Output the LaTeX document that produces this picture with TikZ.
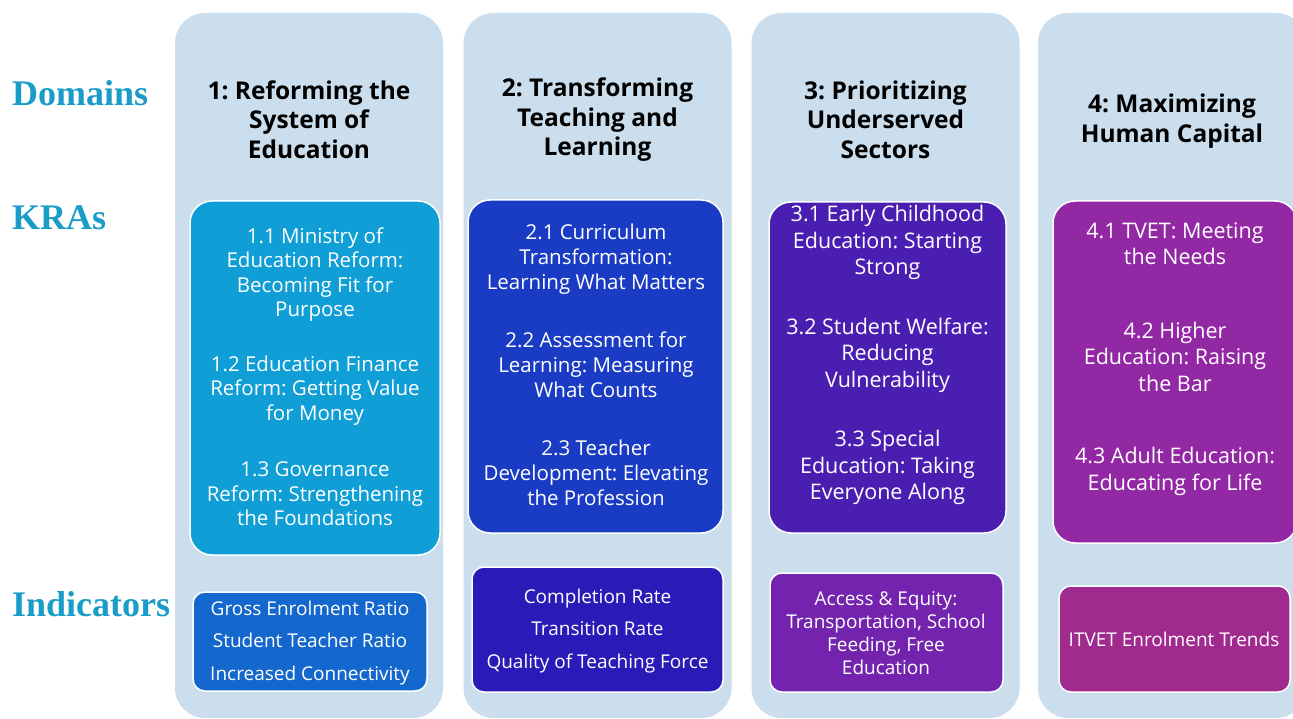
\documentclass[tikz,border=0pt]{standalone}
\usepackage{fontspec}
\setmainfont{Open Sans}
\newfontfamily\rowfont{Liberation Serif}
\frenchspacing

\definecolor{colbg}{HTML}{CBDEED}
\definecolor{rowlabel}{HTML}{1A9CC8}
\definecolor{kraA}{HTML}{0F9ED5}
\definecolor{kraB}{HTML}{1A3CC4}
\definecolor{kraC}{HTML}{4A1EB0}
\definecolor{kraD}{HTML}{9328A4}
\definecolor{indA}{HTML}{1467CC}
\definecolor{indB}{HTML}{2A1BB8}
\definecolor{indC}{HTML}{7423AE}
\definecolor{indD}{HTML}{A02A8E}

\tikzset{
  column/.style={fill=colbg, draw=none, rounded corners=30pt,
    inner sep=0pt, outer sep=0pt, minimum width=268pt, minimum height=705pt},
  krabox/.style={draw=white, line width=1.5pt, rounded corners=22pt,
    inner sep=0pt, outer sep=0pt},
  indbox/.style={draw=white, line width=1.5pt, rounded corners=12pt,
    inner sep=0pt, outer sep=0pt},
  heading/.style={align=center, inner sep=0pt, text=black,
    font=\fontsize{24.5}{29.5}\selectfont\bfseries},
  boxtext/.style={align=center, inner sep=0pt, text=white},
  rowname/.style={anchor=west, inner sep=0pt, text=rowlabel,
    font=\rowfont\fontsize{36}{40}\selectfont\bfseries}
}

\begin{document}
\begin{tikzpicture}[x=1pt, y=-1pt]
\useasboundingbox (0,0) rectangle (1293,719);
\clip (0,0) rectangle (1293,719);
\fill[white] (0,0) rectangle (1293,719);

% row labels
\node[rowname] (domains) at (12,93) {Domains};
\node[rowname] (kras) at (12,218) {KRAs};
\node[rowname] (indicators) at (12,604) {Indicators};

% domain columns
\node[column] (col1) at (309,365.5) {};
\node[column] (col2) at (597.5,365.5) {};
\node[column] (col3) at (885.5,365.5) {};
\node[column] (col4) at (1172,365.5) {};

% domain headings
\node[heading] (h1) at (309,119.5) {1: Reforming the\\System of\\Education};
\node[heading] (h2) at (597.5,120) {2: Transforming\\Teaching and\\Learning};
\node[heading] (h3) at (885.5,119.5) {3: Prioritizing\\Underserved\\Sectors};
\node[heading] (h4) at (1172,121) {4: Maximizing\\Human Capital};

% key result areas
\node[krabox, fill=kraA, minimum width=250pt, minimum height=354pt] (k1) at (315,378) {};
\node[krabox, fill=kraB, minimum width=255pt, minimum height=333pt] (k2) at (595.5,366.5) {};
\node[krabox, fill=kraC, minimum width=237pt, minimum height=331pt] (k3) at (887.5,367.5) {};
\node[krabox, fill=kraD, minimum width=244pt, minimum height=342pt] (k4) at (1175,372) {};

\node[boxtext, font=\fontsize{20.5}{24.5}\selectfont] (k1t) at (315,377)
  {1.1 Ministry of\\Education Reform:\\Becoming Fit for\\Purpose\\[30pt]
   1.2 Education Finance\\Reform: Getting Value\\for Money\\[32pt]
   1.3 Governance\\Reform: Strengthening\\the Foundations};
\node[boxtext, font=\fontsize{20.5}{25}\selectfont] (k2t) at (596,365)
  {2.1 Curriculum\\Transformation:\\Learning What Matters\\[33pt]
   2.2 Assessment for\\Learning: Measuring\\What Counts\\[33pt]
   2.3 Teacher\\Development: Elevating\\the Profession};
\node[boxtext, font=\fontsize{21.5}{26.5}\selectfont] (k3t) at (887.5,355)
  {3.1 Early Childhood\\Education: Starting\\Strong\\[33pt]
   3.2 Student Welfare:\\Reducing\\Vulnerability\\[33pt]
   3.3 Special\\Education: Taking\\Everyone Along};
\node[boxtext, font=\fontsize{21.5}{26.5}\selectfont] (k4t) at (1175,359)
  {4.1 TVET: Meeting\\the Needs\\[47pt]
   4.2 Higher\\Education: Raising\\the Bar\\[46pt]
   4.3 Adult Education:\\Educating for Life};

% indicators
\node[indbox, fill=indA, minimum width=234pt, minimum height=99pt] (i1) at (310,641.5) {};
\node[indbox, fill=indB, minimum width=251pt, minimum height=125pt] (i2) at (597.5,629.5) {};
\node[indbox, fill=indC, minimum width=233pt, minimum height=119pt] (i3) at (886.5,632.5) {};
\node[indbox, fill=indD, minimum width=231pt, minimum height=106pt] (i4) at (1174.5,639) {};

\node[boxtext, font=\fontsize{19}{32.5}\selectfont] (i1t) at (310,643)
  {Gross Enrolment Ratio\\Student Teacher Ratio\\Increased Connectivity};
\node[boxtext, font=\fontsize{19}{32.5}\selectfont] (i2t) at (597.5,631)
  {Completion Rate\\Transition Rate\\Quality of Teaching Force};
\node[boxtext, font=\fontsize{19}{23}\selectfont] (i3t) at (886,633)
  {Access \& Equity:\\Transportation, School\\Feeding, Free\\Education};
\node[boxtext, font=\fontsize{19}{23}\selectfont] (i4t) at (1174,639.5)
  {ITVET Enrolment Trends};
\end{tikzpicture}
\end{document}
